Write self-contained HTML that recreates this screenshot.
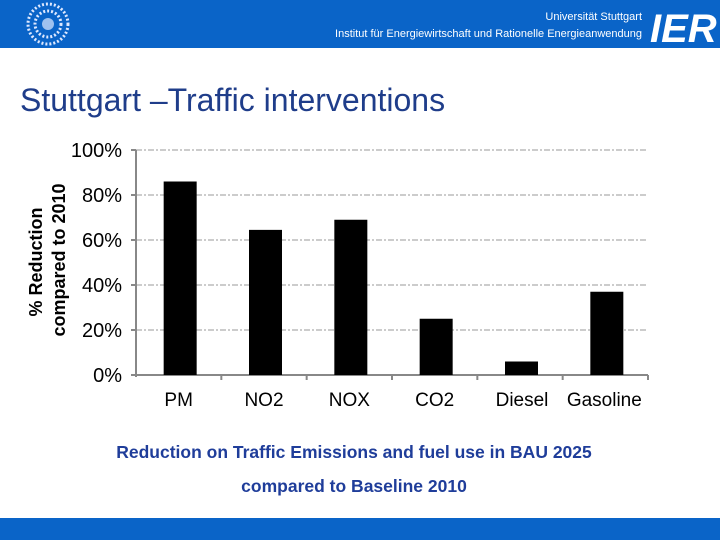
<!DOCTYPE html>
<html><head><meta charset="utf-8"><style>
body{margin:0;width:720px;height:540px;background:#fff;position:relative;overflow:hidden;font-family:"Liberation Sans",sans-serif}
.hdr{position:absolute;left:0;top:0;width:720px;height:48px;background:#0a64c8}
.ftr{position:absolute;left:0;top:518px;width:720px;height:22px;background:#0a64c8}
</style></head><body>
<div class="hdr">
<svg width="720" height="48">
<circle cx="48" cy="24" r="20" fill="none" stroke="#dde8ff" stroke-width="3" stroke-dasharray="2 2"/>
<circle cx="48" cy="24" r="13" fill="none" stroke="#dde8ff" stroke-width="3" stroke-dasharray="2 2"/>
<circle cx="48" cy="24" r="6" fill="#dde8ff" opacity="0.7"/>
<text x="642" y="20" font-size="11" fill="#fff" text-anchor="end" font-family="Liberation Sans">Universität Stuttgart</text>
<text x="642" y="37" font-size="11" fill="#fff" text-anchor="end" font-family="Liberation Sans">Institut für Energiewirtschaft und Rationelle Energieanwendung</text>
<text x="650" y="42" font-size="40" font-weight="bold" font-style="italic" fill="#fff" font-family="Liberation Sans">IER</text>
</svg></div>
<div style="position:absolute;left:20px;top:82px;font-size:32px;color:#1f3d8a">Stuttgart –Traffic interventions</div>
<svg id="chart" width="720" height="540" style="position:absolute;left:0;top:0"></svg>
<div style="position:absolute;left:0;width:708px;top:442px;text-align:center;font-size:17.5px;font-weight:bold;color:#1f3d9a">Reduction on Traffic Emissions and fuel use in BAU 2025</div>
<div style="position:absolute;left:0;width:708px;top:476px;text-align:center;font-size:17.5px;font-weight:bold;color:#1f3d9a">compared to Baseline 2010</div>
<div class="ftr"></div>
<script>
const categories=["PM","NO2","NOX","CO2","Diesel","Gasoline"];
const values=[86,64.5,69,25,6,37];
const yTicks=[0,20,40,60,80,100];
const svg=document.getElementById('chart');const NS='http://www.w3.org/2000/svg';
const x0=136,x1=648,y0=375,y1=150;
const bw=(x1-x0)/categories.length;
const y=v=>y0-(v/100)*(y0-y1);
function mk(t,a){const e=document.createElementNS(NS,t);for(const k in a)e.setAttribute(k,a[k]);svg.appendChild(e);return e;}
yTicks.forEach(t=>{
 if(t>0){const g=mk('line',{x1:x0,x2:x1,y1:y(t),y2:y(t),stroke:'#999','stroke-dasharray':'6 2 2 2'});
 
 }
 const tk=mk('line',{x1:x0-5,x2:x0,y1:y(t),y2:y(t),stroke:'#888','stroke-width':2});
 
 
 const l=mk('text',{x:x0-14,y:y(t)+7,'text-anchor':'end','font-size':20,fill:'#000','font-family':'Liberation Sans'});
 l.textContent=t+'%';
 
 
});
const ya=mk('line',{x1:x0,x2:x0,y1:y1,y2:y0+2,stroke:'#888','stroke-width':2});


const xa=mk('line',{x1:x0-5,x2:x1,y1:y0,y2:y0,stroke:'#888','stroke-width':2});


categories.forEach((c,i)=>{
 const tk=mk('line',{x1:x0+bw*(i+1),x2:x0+bw*(i+1),y1:y0,y2:y0+5,stroke:'#888','stroke-width':2});
 
 
 const cx=x0+bw*(i+0.5);
 const b=mk('rect',{x:cx-15,y:y(values[i]),width:33,height:y0-y(values[i]),fill:'#000'});
 
 
 const l=mk('text',{x:cx+(i==4?2:i==5?-1:0),y:406,'text-anchor':'middle','font-size':19,fill:'#000','font-family':'Liberation Sans'});
 l.textContent=c;
 
 
});
const t1=mk('text',{transform:'translate(42,262) rotate(-90)','text-anchor':'middle','font-size':18,'font-weight':'bold',fill:'#000','font-family':'Liberation Sans'});
t1.textContent='% Reduction';


const t2=mk('text',{transform:'translate(65,260) rotate(-90)','text-anchor':'middle','font-size':18,'font-weight':'bold',fill:'#000','font-family':'Liberation Sans'});
t2.textContent='compared to 2010';


</script>
</body></html>
